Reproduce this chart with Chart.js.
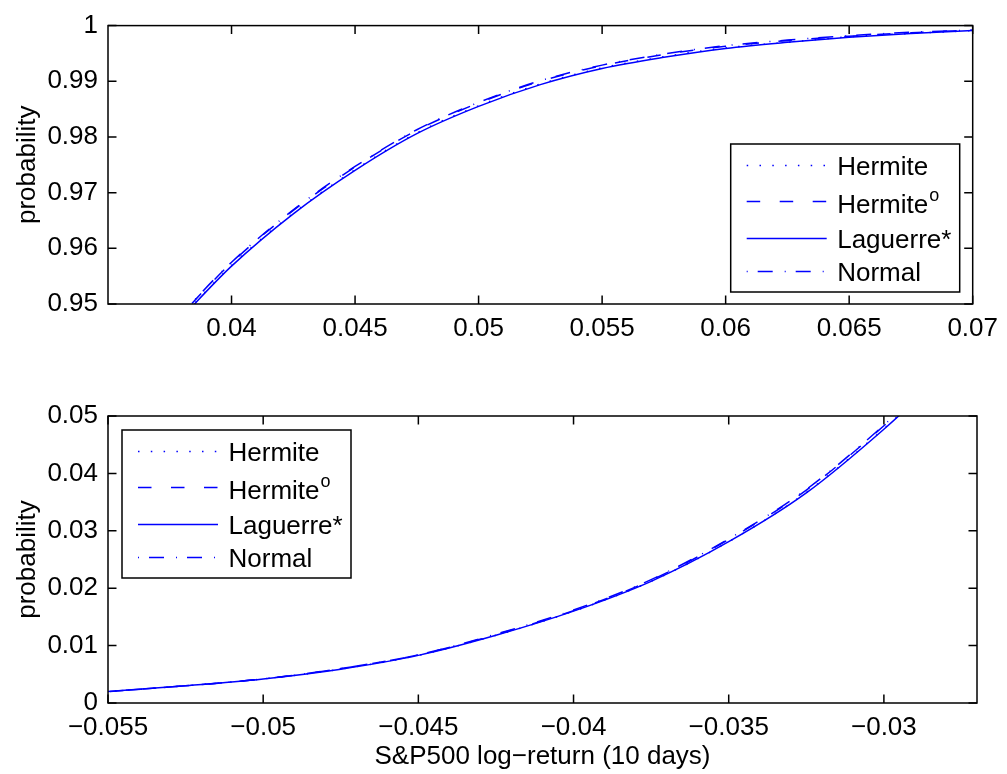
<!DOCTYPE html>
<html>
<head>
<meta charset="utf-8">
<title>S&amp;P500 tail probabilities</title>
<script src="https://cdn.jsdelivr.net/npm/chart.js@4.4.0/dist/chart.umd.min.js"></script>
<style>
  body { margin: 0; background: #fff; }
  canvas { position: absolute; left: 0; }
  #upper { top: 0; }
  #lower { top: 390px; }
</style>
</head>
<body>
<canvas id="upper" width="1007" height="390"></canvas>
<canvas id="lower" width="1007" height="384"></canvas>
<script>
// upper tail of the CDF
const upperX = [0.0375, 0.0385, 0.04, 0.0425, 0.045, 0.0475, 0.05, 0.0525, 0.055, 0.0575, 0.06, 0.0625, 0.065, 0.0675, 0.07];
const upperHermite  = [0.9452, 0.9501, 0.9569, 0.9663, 0.9741, 0.9807, 0.9856, 0.9895, 0.9924, 0.9944, 0.9960, 0.9970, 0.9980, 0.9986, 0.9991];
const upperHermiteO = [0.9457, 0.9506, 0.9574, 0.9668, 0.9746, 0.9812, 0.9861, 0.9900, 0.9928, 0.9948, 0.9963, 0.9973, 0.9981, 0.9987, 0.9992];
const upperLaguerre = [0.9451, 0.9500, 0.9568, 0.9662, 0.9740, 0.9806, 0.9855, 0.9894, 0.9923, 0.9943, 0.9959, 0.9970, 0.9979, 0.9986, 0.9991];
const upperNormal   = [0.9458, 0.9507, 0.9575, 0.9669, 0.9747, 0.9813, 0.9862, 0.9901, 0.9929, 0.9949, 0.9964, 0.9974, 0.9982, 0.9988, 0.9992];

// lower tail of the CDF
const lowerX = [-0.056, -0.055, -0.0525, -0.05, -0.0475, -0.045, -0.0425, -0.04, -0.0375, -0.035, -0.0325, -0.03, -0.029, -0.0285];
const lowerHermite  = [0.0017, 0.0020, 0.0030, 0.0042, 0.0059, 0.0083, 0.0118, 0.0160, 0.0212, 0.0281, 0.0367, 0.0478, 0.0528, 0.0556];
const lowerHermiteO = [0.0017, 0.0020, 0.0030, 0.0042, 0.0060, 0.0084, 0.0119, 0.0161, 0.0214, 0.0285, 0.0371, 0.0483, 0.0534, 0.0562];
const lowerLaguerre = [0.0017, 0.0020, 0.0030, 0.0042, 0.0059, 0.0083, 0.0118, 0.0160, 0.0212, 0.0281, 0.0366, 0.0477, 0.0527, 0.0555];
const lowerNormal   = [0.0017, 0.0020, 0.0030, 0.0042, 0.0060, 0.0084, 0.0120, 0.0162, 0.0215, 0.0286, 0.0372, 0.0484, 0.0535, 0.0563];

const upperXTicks = [0.04, 0.045, 0.05, 0.055, 0.06, 0.065, 0.07];
const upperYTicks = [0.95, 0.96, 0.97, 0.98, 0.99, 1];
const lowerXTicks = [-0.055, -0.05, -0.045, -0.04, -0.035, -0.03];
const lowerYTicks = [0, 0.01, 0.02, 0.03, 0.04, 0.05];

const seriesNames = ['Hermite', 'Hermite', 'Laguerre*', 'Normal'];
const seriesSup = ['', 'o', '', ''];

const blue = '#0000ff';
const ink = '#000';
const dashes = [[1.5, 11.3], [13.5, 19.5], [], [1, 10, 15, 12]];

Chart.defaults.font.family = "'Liberation Sans', Arial, Helvetica, sans-serif";
Chart.defaults.color = '#000';

const fmt = v => String(v).replace('-', '\u2212');

function makeDatasets(xs, cols) {
  return cols.map((ys, i) => ({
    label: seriesNames[i],
    data: xs.map((x, j) => ({ x: x, y: ys[j] })),
    borderColor: blue,
    borderWidth: 1.5,
    borderDash: dashes[i],
    pointRadius: 0,
    cubicInterpolationMode: 'monotone',
    fill: false
  }));
}

function axis(min, max, ticks, size, horizontal, title, titlePad) {
  return {
    type: 'linear',
    min: min,
    max: max,
    grid: { display: false, drawTicks: false },
    border: { display: false },
    afterBuildTicks: s => { s.ticks = ticks.map(v => ({ value: v })); },
    afterFit: s => { if (horizontal) s.height = size; else s.width = size; },
    ticks: {
      color: '#000',
      padding: horizontal ? 9 : 10,
      font: { size: 26 },
      maxRotation: 0,
      autoSkip: false,
      callback: v => fmt(v)
    },
    title: title
      ? { display: true, text: title, color: '#000', font: { size: 26 }, padding: titlePad }
      : { display: false }
  };
}

// box round the plot with inward ticks on all four sides
const frame = {
  id: 'frame',
  afterDatasetsDraw(chart) {
    const { ctx, chartArea: a, scales } = chart;
    const len = 8.5;
    ctx.save();
    ctx.strokeStyle = ink;
    ctx.lineWidth = 1.5;
    ctx.strokeRect(a.left, a.top, a.right - a.left, a.bottom - a.top);
    ctx.beginPath();
    scales.x.ticks.forEach(t => {
      const px = scales.x.getPixelForValue(t.value);
      ctx.moveTo(px, a.bottom); ctx.lineTo(px, a.bottom - len);
      ctx.moveTo(px, a.top); ctx.lineTo(px, a.top + len);
    });
    scales.y.ticks.forEach(t => {
      const py = scales.y.getPixelForValue(t.value);
      ctx.moveTo(a.left, py); ctx.lineTo(a.left + len, py);
      ctx.moveTo(a.right, py); ctx.lineTo(a.right - len, py);
    });
    ctx.stroke();
    ctx.restore();
  }
};

// legend box with line samples
const lineKey = {
  id: 'lineKey',
  afterDraw(chart, args, opts) {
    const { ctx, chartArea: a } = chart;
    const w = 229, h = 148;
    const left = opts.corner === 'ne' ? a.right - 13 - w : a.left + 14;
    const top = opts.corner === 'ne' ? a.bottom - 12 - h : a.top + 14;
    const rows = [20.5, 57, 94, 127];
    const lift = [10, 12.3, 10, 10];
    ctx.save();
    ctx.fillStyle = '#fff';
    ctx.fillRect(left, top, w, h);
    ctx.strokeStyle = ink;
    ctx.lineWidth = 1.5;
    ctx.strokeRect(left, top, w, h);
    chart.data.datasets.forEach((ds, i) => {
      const y = Math.round(top + rows[i]) + 0.5;
      ctx.strokeStyle = ds.borderColor;
      ctx.lineWidth = 1.5;
      ctx.setLineDash(ds.borderDash);
      ctx.beginPath();
      ctx.moveTo(left + 16, y);
      ctx.lineTo(left + 96, y);
      ctx.stroke();
      ctx.setLineDash([]);
      ctx.fillStyle = '#000';
      ctx.textBaseline = 'alphabetic';
      ctx.textAlign = 'left';
      ctx.font = "26px 'Liberation Sans', Arial, sans-serif";
      const base = top + rows[i] + lift[i];
      ctx.fillText(ds.label, left + 106.5, base);
      if (seriesSup[i]) {
        const tw = ctx.measureText(ds.label).width;
        ctx.font = "18px 'Liberation Sans', Arial, sans-serif";
        ctx.fillText(seriesSup[i], left + 106.5 + tw + 1, base - 12);
      }
    });
    ctx.restore();
  }
};

function makeChart(id, xs, cols, xRange, yRange, xTicks, yTicks, xSize, xTitle, pad, corner) {
  return new Chart(document.getElementById(id), {
    type: 'line',
    data: { datasets: makeDatasets(xs, cols) },
    options: {
      responsive: false,
      animation: false,
      layout: { padding: pad },
      scales: {
        x: axis(xRange[0], xRange[1], xTicks, xSize, true, xTitle, { top: 0, bottom: 1.4 }),
        y: axis(yRange[0], yRange[1], yTicks, 108, false, 'probability', { top: 12.4, bottom: 0 })
      },
      plugins: {
        legend: { display: false },
        tooltip: { enabled: false },
        lineKey: { corner: corner }
      }
    },
    plugins: [frame, lineKey]
  });
}

makeChart('upper', upperX, [upperHermite, upperHermiteO, upperLaguerre, upperNormal],
  [0.035, 0.07], [0.95, 1], upperXTicks, upperYTicks, 86, null,
  { top: 18, right: 30, left: 0, bottom: 0 }, 'ne');

makeChart('lower', lowerX, [lowerHermite, lowerHermiteO, lowerLaguerre, lowerNormal],
  [-0.055, -0.027], [0, 0.05], lowerXTicks, lowerYTicks, 71, 'S&P500 log\u2212return (10 days)',
  { top: 26, right: 30, left: 0, bottom: 0 }, 'nw');
</script>
</body>
</html>
